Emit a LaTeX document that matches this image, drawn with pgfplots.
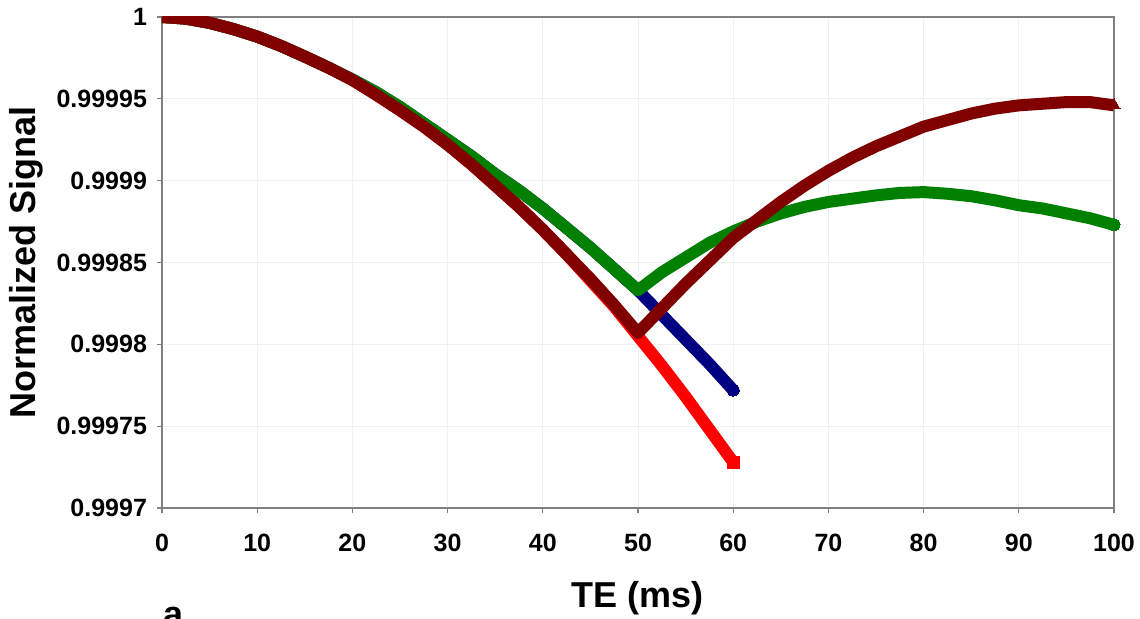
\documentclass[border=0pt]{standalone}
\usepackage{fontspec}
\setmainfont{Liberation Sans}
\usepackage{graphicx}
\usepackage{pgfplots}
\pgfplotsset{compat=1.18}
\definecolor{cblue}{HTML}{000080}
\definecolor{cred}{HTML}{FF0000}
\definecolor{cgreen}{HTML}{008000}
\definecolor{cdred}{HTML}{800000}
\begin{document}
\begin{tikzpicture}
\path[use as bounding box] (0,0) rectangle (570pt,309.5pt);
\begin{axis}[
  at={(81pt,55.5pt)}, anchor=south west,
  scale only axis, width=476pt, height=245.5pt,
  xmin=0, xmax=100, ymin=0.9997, ymax=1,
  xtick={0,10,...,100},
  ytick={0.9997,0.99975,0.9998,0.99985,0.9999,0.99995,1},
  yticklabels={0.9997,0.99975,0.9998,0.99985,0.9999,0.99995,1},
  scaled y ticks=false,
  /pgf/number format/assume math mode=true,
  tick label style={font=\fontsize{12.5}{14}\selectfont\bfseries},
  xticklabel style={yshift=-7pt},
  yticklabel style={xshift=-1.5pt},
  tick align=outside, major tick length=2.5pt,
  xtick pos=bottom, ytick pos=left,
  tick style={gray, line width=0.6pt},
  axis line style={gray, line width=0.8pt},
  grid=major, major grid style={gray!12, line width=0.5pt},
  xlabel={TE (ms)}, ylabel={Normalized Signal},
  label style={font=\fontsize{18}{20}\selectfont\bfseries},
  xlabel style={at={(axis description cs:0.5,-0.1833)}, anchor=center},
  ylabel style={at={(axis description cs:-0.1429,0.5)}, anchor=center},
  every axis plot/.append style={line width=6pt, line join=round, line cap=round},
]
% blue
\addplot[cblue, mark=*, mark size=3pt, mark indices={25}, mark options={line width=0pt}] coordinates {
(0,1.0000000) (2.5,0.9999990) (5,0.9999964) (7.5,0.9999926) (10,0.9999880)
(12.5,0.9999823) (15,0.9999758) (17.5,0.9999690) (20,0.9999618) (22.5,0.9999540)
(25,0.9999450) (27.5,0.9999350) (30,0.9999250) (32.5,0.9999150) (35,0.9999040)
(37.5,0.9998940) (40,0.9998830) (42.5,0.9998710) (45,0.9998590) (47.5,0.9998460)
(50,0.9998330) (52.5,0.9998180) (55,0.9998030) (57.5,0.9997880) (60,0.9997720)};
% red
\addplot[cred, line cap=butt, mark=square*, mark size=3pt, mark indices={25}, mark options={line width=0pt}] coordinates {
(0,1.0000000) (2.5,0.9999990) (5,0.9999964) (7.5,0.9999926) (10,0.9999880)
(12.5,0.9999823) (15,0.9999758) (17.5,0.9999690) (20,0.9999615) (22.5,0.9999525)
(25,0.9999430) (27.5,0.9999330) (30,0.9999220) (32.5,0.9999100) (35,0.9998970)
(37.5,0.9998840) (40,0.9998700) (42.5,0.9998550) (45,0.9998390) (47.5,0.9998230)
(50,0.9998050) (52.5,0.9997870) (55,0.9997680) (57.5,0.9997480) (60,0.9997280)};
% green
\addplot[cgreen, mark=*, mark size=3pt, mark indices={41}, mark options={line width=0pt}] coordinates {
(0,1.0000000) (2.5,0.9999990) (5,0.9999964) (7.5,0.9999926) (10,0.9999880)
(12.5,0.9999823) (15,0.9999758) (17.5,0.9999690) (20,0.9999618) (22.5,0.9999540)
(25,0.9999450) (27.5,0.9999350) (30,0.9999250) (32.5,0.9999150) (35,0.9999040)
(37.5,0.9998940) (40,0.9998830) (42.5,0.9998710) (45,0.9998590) (47.5,0.9998460)
(50,0.9998330) (52.5,0.9998440) (55,0.9998530) (57.5,0.9998620) (60,0.9998690)
(62.5,0.9998750) (65,0.9998800) (67.5,0.9998840) (70,0.9998870) (72.5,0.9998890)
(75,0.9998910) (77.5,0.9998925) (80,0.9998930) (82.5,0.9998920) (85,0.9998905)
(87.5,0.9998880) (90,0.9998850) (92.5,0.9998830) (95,0.9998800) (97.5,0.9998770)
(100,0.9998730)};
% dark red
\addplot[cdred, line cap=butt, mark=triangle*, mark size=3.5pt, mark indices={41}, mark options={line width=0pt}] coordinates {
(0,1.0000000) (2.5,0.9999990) (5,0.9999964) (7.5,0.9999926) (10,0.9999880)
(12.5,0.9999823) (15,0.9999758) (17.5,0.9999690) (20,0.9999615) (22.5,0.9999525)
(25,0.9999430) (27.5,0.9999330) (30,0.9999220) (32.5,0.9999100) (35,0.9998970)
(37.5,0.9998840) (40,0.9998700) (42.5,0.9998550) (45,0.9998400) (47.5,0.9998240)
(50,0.9998070) (52.5,0.9998220) (55,0.9998370) (57.5,0.9998510) (60,0.9998650)
(62.5,0.9998760) (65,0.9998870) (67.5,0.9998970) (70,0.9999060) (72.5,0.9999140)
(75,0.9999210) (77.5,0.9999270) (80,0.9999330) (82.5,0.9999370) (85,0.9999410)
(87.5,0.9999440) (90,0.9999460) (92.5,0.9999470) (95,0.9999480) (97.5,0.9999480)
(100,0.9999460)};
\end{axis}
\node[anchor=north west, inner sep=0pt, font=\fontsize{18}{18}\selectfont\bfseries] at (81.5pt,6pt) {a};
\end{tikzpicture}
\end{document}
